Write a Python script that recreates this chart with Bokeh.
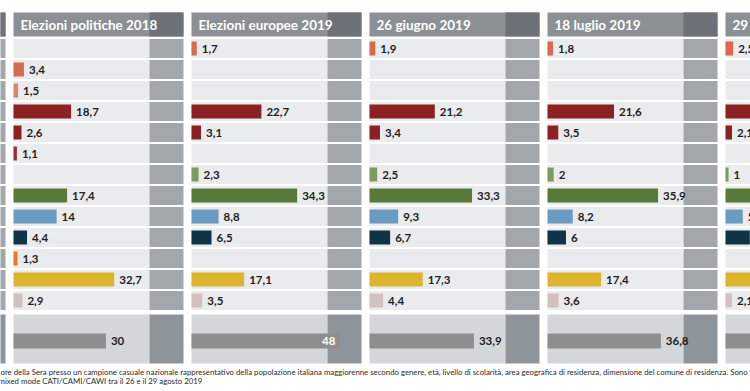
from bokeh.plotting import figure
from bokeh.models import Range1d, ColumnDataSource
from bokeh.core.properties import value
from bokeh.embed import file_html
from bokeh.resources import INLINE

# ---------------- data ----------------
rows = ["La Sinistra", "Liberi e Uguali", "Potere al Popolo", "Pd", "+Europa",
        "Insieme", "Europa Verde", "Lega", "Forza Italia", "Fratelli d'Italia",
        "Noi con l'Italia", "M5S", "Altri"]
row_colors = ["#d96a4d", "#d96a4d", "#cf8a70", "#8c2123", "#8c2123",
              "#9a2e34", "#7e9a5c", "#5a7a3b", "#6a9bc0", "#0f3445",
              "#e97a2d", "#deb42f", "#d3c0c0"]
bottom_row = "Astensione / indecisi"
bottom_color = "#8e8e8e"

panel_titles = ["Elezioni politiche 2018", "Elezioni europee 2019",
                "26 giugno 2019", "18 luglio 2019", "29 agosto 2019"]
values_politiche_2018 = [None, 3.4, 1.5, 18.7, 2.6, 1.1, None, 17.4, 14, 4.4, 1.3, 32.7, 2.9]
values_europee_2019 = [1.7, None, None, 22.7, 3.1, None, 2.3, 34.3, 8.8, 6.5, None, 17.1, 3.5]
values_26_giugno = [1.9, None, None, 21.2, 3.4, None, 2.5, 33.3, 9.3, 6.7, None, 17.3, 4.4]
values_18_luglio = [1.8, None, None, 21.6, 3.5, None, 2, 35.9, 8.2, 6, None, 17.4, 3.6]
values_29_agosto = [2.5, None, None, 22.6, 2.1, None, 1, 31.8, 5.6, 7.9, None, 20.3, 2.1]
panel_values = [values_politiche_2018, values_europee_2019, values_26_giugno,
                values_18_luglio, values_29_agosto]
bottom_values = [30, 48, 33.9, 36.8, 38.4]

footnote_lines = [
    "ore della Sera presso un campione casuale nazionale rappresentativo della popolazione italiana maggiorenne secondo genere, età, livello di scolarità, area geografica di residenza, dimensione del comune di residenza. Sono state realizzate 1000 interviste",
    "mixed mode CATI/CAMI/CAWI tra il 26 e il 29 agosto 2019",
]

# ---------------- layout / style ----------------
X0, X1 = 0, 750          # visible window in pixels
Y0, Y1 = 0, 391
PANEL_LEFT0 = 13
PANEL_PITCH = 178
PANEL_W = 170
BAND_OFF = 136
PXU = 3.08               # pixels per percentage point
HEADER_TOP, HEADER_BOT = 12, 36
ROW0, ROW_PITCH, CELL_H, BAR_H = 48, 21, 19, 14
BOTTOM_TOP, BOTTOM_BOT, BOTTOM_Y, BOTTOM_BAR_H = 314, 363, 340.5, 15

HEADER_BG, HEADER_BAND = "#8a9094", "#6c7277"
ROW_BG, ROW_BAND = "#eaebed", "#a2a7ab"
BOT_BG, BOT_BAND = "#d3d7da", "#8e959a"

FONT = value("Lato")


def fmt(v):
    if float(v).is_integer():
        return str(int(v))
    return f"{v:.1f}".replace(".", ",")


p = figure(width=X1 - X0, height=Y1 - Y0,
           x_range=Range1d(X0, X1), y_range=Range1d(Y1, Y0),
           output_backend="svg", toolbar_location=None,
           x_axis_location=None, y_axis_location=None,
           min_border=0, outline_line_color=None,
           background_fill_color="white", border_fill_color="white")
p.grid.visible = False
p.title.visible = False

lefts = [PANEL_LEFT0 + i * PANEL_PITCH for i in range(len(panel_titles))]
bg_lefts = [PANEL_LEFT0 - PANEL_PITCH] + lefts   # previous (cut) panel at the left

# backgrounds
bg = dict(left=[], right=[], top=[], bottom=[], color=[])


def add_bg(l, r, t, b, c):
    bg["left"].append(l); bg["right"].append(r)
    bg["top"].append(t); bg["bottom"].append(b); bg["color"].append(c)


for L in bg_lefts:
    add_bg(L, L + PANEL_W, HEADER_TOP, HEADER_BOT, HEADER_BG)
    add_bg(L + BAND_OFF, L + PANEL_W, HEADER_TOP, HEADER_BOT, HEADER_BAND)
    for j in range(len(rows)):
        yc = ROW0 + j * ROW_PITCH
        add_bg(L, L + BAND_OFF, yc - CELL_H / 2, yc + CELL_H / 2, ROW_BG)
        add_bg(L + BAND_OFF, L + PANEL_W, yc - CELL_H / 2, yc + CELL_H / 2, ROW_BAND)
    add_bg(L, L + BAND_OFF, BOTTOM_TOP, BOTTOM_BOT, BOT_BG)
    add_bg(L + BAND_OFF, L + PANEL_W, BOTTOM_TOP, BOTTOM_BOT, BOT_BAND)

p.quad(left="left", right="right", top="top", bottom="bottom", color="color",
       line_color=None, source=ColumnDataSource(bg))

# bars per panel, each on its own value scale
for i, (L, vals, bval) in enumerate(zip(lefts, panel_values, bottom_values)):
    name = f"p{i}"
    p.extra_x_ranges[name] = Range1d((X0 - L) / PXU, (X1 - L) / PXU)
    ys, vs, cs = [], [], []
    for j, v in enumerate(vals):
        if v is None:
            continue
        ys.append(ROW0 + j * ROW_PITCH); vs.append(v); cs.append(row_colors[j])
    p.hbar(y=ys, left=0, right=vs, height=BAR_H, color=cs, line_color=None,
           x_range_name=name)
    p.hbar(y=[BOTTOM_Y], left=0, right=[bval], height=BOTTOM_BAR_H,
           color=bottom_color, line_color=None, x_range_name=name)

    all_y = ys + [BOTTOM_Y]
    all_v = vs + [bval]
    out_x, out_y, out_t, in_x, in_y, in_t = [], [], [], [], [], []
    for y, v in zip(all_y, all_v):
        if v * PXU > BAND_OFF:
            in_x.append(v); in_y.append(y); in_t.append(fmt(v))
        else:
            out_x.append(v); out_y.append(y); out_t.append(fmt(v))
    p.text(x=out_x, y=out_y, text=out_t, x_offset=5, text_baseline="middle",
           text_align="left", text_font=FONT, text_font_style="bold",
           text_font_size="11.5px", text_color="#1e1e1e", x_range_name=name)
    if in_x:
        p.text(x=in_x, y=in_y, text=in_t, x_offset=-4, text_baseline="middle",
               text_align="right", text_font=FONT, text_font_style="bold",
               text_font_size="11.5px", text_color="white", x_range_name=name)

# headers
p.text(x=[L + 7 for L in lefts], y=[(HEADER_TOP + HEADER_BOT) / 2] * len(lefts),
       text=panel_titles, text_baseline="middle", text_align="left",
       text_font=FONT, text_font_style="bold", text_font_size="13.5px",
       text_color="white")

# footnote
p.text(x=[0, -2], y=[371, 380], text=footnote_lines, text_baseline="middle",
       text_align="left", text_font=FONT, text_font_size="7.8px",
       text_color="#2b2b2b")

open("out.html", "w").write(file_html(p, INLINE))
